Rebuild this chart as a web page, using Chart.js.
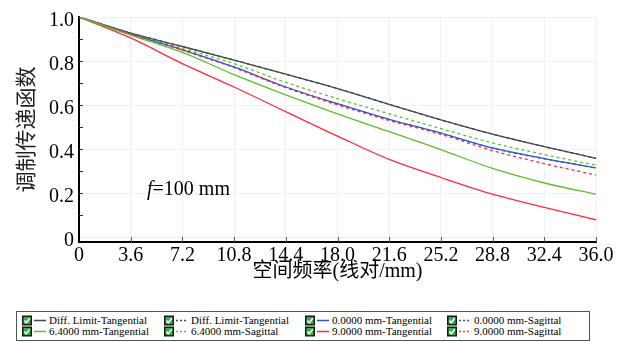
<!DOCTYPE html>
<html><head><meta charset="utf-8">
<script src="https://cdn.jsdelivr.net/npm/chart.js@4/dist/chart.umd.min.js"></script>
<style>
html,body{margin:0;padding:0;background:#fff;}
#wrap{position:relative;width:632px;height:342px;overflow:hidden;background:#fff;}
#c{position:absolute;left:0;top:0;}
#note{position:absolute;left:147px;top:177px;font-family:"Liberation Serif","Times New Roman",serif;font-size:20px;color:#000;white-space:nowrap;line-height:22px;}
#legend{position:absolute;left:16px;top:311px;width:572px;height:28px;border:1px solid #4a5560;}
.item{position:absolute;font-family:"Liberation Serif","Times New Roman",serif;font-size:11px;color:#000;white-space:nowrap;line-height:11px;height:11px;}
.item svg{position:absolute;top:0;}
.item .tx{position:absolute;left:27px;top:0;}
</style></head>
<body>
<div id="wrap">
<canvas id="c" width="632" height="290"></canvas>
<div id="note"><i>f</i>=100 mm</div>
<div id="legend"></div>
</div>
<script>
// ---- data ----
const freq = [0, 3.6, 7.2, 10.8, 14.4, 18.0, 21.6, 25.2, 28.8, 32.4, 36.0];
const xTickValues = [0, 3.6, 7.2, 10.8, 14.4, 18.0, 21.6, 25.2, 28.8, 32.4, 36.0];
const yTickValues = [0, 0.2, 0.4, 0.6, 0.8, 1.0];
const diffLimitT = [1.0, 0.927, 0.866, 0.804, 0.740, 0.675, 0.603, 0.533, 0.468, 0.411, 0.358];
const diffLimitS = [1.0, 0.927, 0.866, 0.804, 0.740, 0.675, 0.603, 0.533, 0.468, 0.411, 0.358];
const field0T   = [1.0, 0.922, 0.851, 0.773, 0.682, 0.606, 0.535, 0.473, 0.405, 0.357, 0.315];
const field0S   = [1.0, 0.922, 0.851, 0.772, 0.681, 0.605, 0.534, 0.472, 0.404, 0.356, 0.314];
const field64T  = [1.0, 0.918, 0.839, 0.738, 0.646, 0.560, 0.479, 0.398, 0.312, 0.246, 0.195];
const field64S  = [1.0, 0.924, 0.857, 0.788, 0.703, 0.629, 0.560, 0.493, 0.428, 0.375, 0.327];
const field90T  = [1.0, 0.905, 0.788, 0.682, 0.570, 0.459, 0.353, 0.271, 0.195, 0.135, 0.079];
const field90S  = [1.0, 0.921, 0.849, 0.770, 0.679, 0.601, 0.530, 0.467, 0.393, 0.334, 0.282];
const legendLabels = ['Diff. Limit-Tangential','Diff. Limit-Tangential','0.0000 mm-Tangential','0.0000 mm-Sagittal',
                      '6.4000 mm-Tangential','6.4000 mm-Sagittal','9.0000 mm-Tangential','9.0000 mm-Sagittal'];

const C_BLACK = '#3f4a4a', C_GREEN = '#5cbf2c', C_BLUE = '#2b55d6', C_RED = '#ff2b3b';
const pts = arr => freq.map((f, i) => ({x: f, y: arr[i]}));

const series = [
  {label:legendLabels[4], data:field64T,  color:C_GREEN, dash:[]},
  {label:legendLabels[6], data:field90T,  color:C_RED,   dash:[]},
  {label:legendLabels[7], data:field90S,  color:C_RED,   dash:[3,3]},
  {label:legendLabels[2], data:field0T,   color:C_BLUE,  dash:[]},
  {label:legendLabels[3], data:field0S,   color:C_BLUE,  dash:[3,3]},
  {label:legendLabels[5], data:field64S,  color:C_GREEN, dash:[3,3]},
  {label:legendLabels[0], data:diffLimitT,color:C_BLACK, dash:[]},
  {label:legendLabels[1], data:diffLimitS,color:C_BLACK, dash:[3,3]}
];

const innerTicks = {
  id:'innerTicks',
  afterDraw(chart){
    const {ctx, scales:{x, y}, chartArea:a} = chart;
    ctx.save();
    ctx.strokeStyle = '#333';
    ctx.lineWidth = 1;
    for (let k = 1; k <= 9; k++) {
      const py = Math.round(y.getPixelForValue(k/10)) + 0.5;
      ctx.beginPath(); ctx.moveTo(a.left, py); ctx.lineTo(a.left + 4, py); ctx.stroke();
    }
    ctx.strokeStyle = '#556';
    xTickValues.slice(1).forEach(v => {
      const px = Math.round(x.getPixelForValue(v)) + 0.5;
      ctx.beginPath(); ctx.moveTo(px, a.bottom); ctx.lineTo(px, a.bottom - 5); ctx.stroke();
    });
    ctx.restore();
  }
};

const serif = '"Liberation Serif", "Times New Roman", "Noto Sans CJK SC", serif';
Chart.defaults.font.family = serif;
new Chart(document.getElementById('c'), {
  type:'line',
  data:{datasets: series.map(s => ({
    label:s.label, data:pts(s.data), borderColor:s.color, backgroundColor:s.color,
    borderDash:s.dash, borderWidth:1.3, pointRadius:0, fill:false,
    cubicInterpolationMode:'monotone'
  }))},
  options:{
    responsive:false, animation:false, devicePixelRatio:1,
    layout:{padding:{left:0, right:36, top:14, bottom:0}},
    plugins:{legend:{display:false}, tooltip:{enabled:false}},
    scales:{
      x:{
        type:'linear', min:0, max:36,
        afterBuildTicks: s => { s.ticks = xTickValues.map(v => ({value:v})); },
        afterFit: s => { s.height = 48; },
        grid:{color:'#f1f1f1', drawTicks:false},
        border:{color:'#000', width:2},
        ticks:{font:{family:serif, size:20}, color:'#000', padding:2, maxRotation:0, autoSkip:false,
               callback: v => v === 0 ? '0' : Number(v).toFixed(1)},
        title:{display:true, text:'空间频率(线对/mm)', color:'#000',
               font:{family:serif, size:20}, padding:{top:0, bottom:6}}
      },
      y:{
        type:'linear', min:-0.022, max:1.0,
        afterBuildTicks: s => { s.ticks = yTickValues.map(v => ({value:v})); },
        afterFit: s => { s.width = 79; },
        grid:{color:'#f1f1f1', drawTicks:false},
        border:{color:'#000', width:2},
        ticks:{font:{family:serif, size:20}, color:'#000', padding:5, labelOffset:4,
               callback: v => v === 0 ? '0' : Number(v).toFixed(1)},
        title:{display:true, text:'调制传递函数', color:'#222',
               font:{family:serif, size:21}, padding:{top:15, bottom:0}}
      }
    }
  },
  plugins:[innerTicks]
});

// ---- legend (HTML) ----
const legendStyle = [
  {color:C_BLACK, dash:''}, {color:C_BLACK, dash:'2,2'}, {color:C_BLUE, dash:''}, {color:C_BLUE, dash:'2,2'},
  {color:C_GREEN, dash:''}, {color:C_GREEN, dash:'2,2'}, {color:C_RED, dash:''}, {color:C_RED, dash:'2,2'}
];
const colX = [5, 147, 288, 430];
const rowY = [3, 14];
const lg = document.getElementById('legend');
legendLabels.forEach((lab, i) => {
  const st = legendStyle[i];
  const d = document.createElement('div');
  d.className = 'item';
  d.style.left = colX[i % 4] + 'px';
  d.style.top = rowY[Math.floor(i / 4)] + 'px';
  d.innerHTML =
    '<svg width="26" height="11" style="left:0">' +
    '<rect x="0.75" y="1.25" width="8.5" height="8.5" fill="#35b04a" stroke="#1a1a1a" stroke-width="1.5"/>' +
    '<path d="M2.3 5.6 L4.3 7.6 L7.8 3.2" stroke="#fff" stroke-width="1.5" fill="none"/>' +
    '<line x1="12" y1="5.5" x2="24" y2="5.5" stroke="' + st.color + '" stroke-width="1.5"' +
    (st.dash ? ' stroke-dasharray="' + st.dash + '"' : '') + '/></svg>' +
    '<span class="tx">' + lab + '</span>';
  lg.appendChild(d);
});
</script>
</body></html>
